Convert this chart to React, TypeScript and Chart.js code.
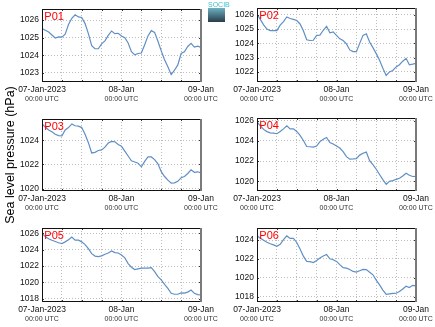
import React, { useEffect, useRef } from 'react';
import { Chart, registerables } from 'chart.js';
Chart.register(...registerables);

// ---- data ----
const hours = [0,1,2,3,4,5,6,7,8,9,10,11,12,13,14,15,16,17,18,19,20,21,22,23,24,25,26,27,28,29,30,31,32,33,34,35,36,37,38,39,40,41,42,43,44,45,46,47,48];
const gridHours = [0,6,12,18,24,30,36,42,48];
const xTickHours = [0,24,48];
const xTickLabels = ['07-Jan-2023','08-Jan','09-Jan'];
const xTickSub = '00:00 UTC';
const yTitle = 'Sea level pressure (hPa)';
const names = ['P01','P02','P03','P04','P05','P06'];

const p01 = [1025.52,1025.42,1025.32,1025.15,1024.98,1025.04,1025.03,1025.2,1025.75,1026.1,1026.3,1026.18,1026.15,1025.8,1025.23,1024.55,1024.37,1024.37,1024.65,1024.82,1025.13,1025.38,1025.23,1025.25,1025.1,1025.0,1024.7,1024.2,1024.02,1024.1,1024.13,1024.6,1025.1,1025.4,1025.3,1024.8,1024.25,1023.75,1023.35,1022.9,1023.15,1023.45,1024.1,1024.2,1024.5,1024.68,1024.46,1024.52,1024.45];
const p02 = [1026.05,1025.68,1025.3,1025.0,1024.9,1024.9,1024.9,1025.28,1025.52,1025.85,1025.74,1025.68,1025.6,1025.36,1024.88,1024.25,1024.2,1024.22,1024.56,1024.58,1024.92,1025.2,1024.74,1024.8,1024.56,1024.32,1024.2,1023.96,1023.54,1023.42,1023.42,1024.0,1024.56,1024.67,1024.1,1023.7,1023.28,1022.82,1022.25,1021.75,1022.0,1022.1,1022.35,1022.5,1022.75,1022.95,1022.5,1022.54,1022.6];
const p03 = [1025.36,1025.1,1024.85,1024.7,1024.5,1024.38,1024.37,1024.85,1025.05,1025.35,1025.2,1025.17,1025.05,1024.5,1023.8,1022.95,1023.0,1023.15,1023.2,1023.43,1023.77,1023.91,1023.88,1023.65,1023.5,1023.1,1022.7,1022.3,1022.2,1022.1,1021.8,1022.25,1022.62,1022.62,1022.4,1022.05,1021.4,1021.0,1020.7,1020.45,1020.47,1020.6,1020.9,1021.0,1021.25,1021.55,1021.35,1021.39,1021.3];
const p04 = [1025.9,1025.5,1025.15,1024.93,1024.8,1024.78,1024.72,1024.95,1025.2,1025.5,1025.2,1025.2,1024.95,1024.55,1024.05,1023.45,1023.43,1023.39,1023.5,1023.94,1024.18,1024.35,1023.84,1023.7,1023.5,1023.3,1022.95,1022.45,1022.2,1022.22,1022.25,1022.6,1022.78,1022.9,1022.05,1021.65,1021.2,1020.68,1020.17,1019.7,1020.0,1020.07,1020.2,1020.3,1020.52,1020.8,1020.6,1020.48,1020.5];
const p05 = [1026.0,1025.6,1025.35,1025.15,1025.0,1024.85,1024.76,1024.96,1025.22,1025.55,1025.17,1025.17,1024.96,1024.63,1024.13,1023.51,1023.22,1023.15,1023.25,1023.45,1023.6,1023.85,1023.65,1023.6,1023.35,1023.0,1022.3,1021.85,1021.56,1021.65,1021.73,1021.73,1021.75,1021.8,1021.3,1020.7,1020.3,1019.75,1019.25,1018.65,1018.54,1018.54,1018.7,1018.68,1018.8,1019.05,1018.65,1018.5,1018.45];
const p06 = [1024.47,1024.2,1023.98,1023.78,1023.62,1023.5,1023.35,1023.55,1024.05,1024.45,1024.18,1024.2,1023.75,1023.05,1022.3,1021.75,1021.72,1021.62,1021.84,1022.1,1022.31,1022.47,1022.02,1021.92,1021.74,1021.4,1021.08,1021.02,1020.88,1020.68,1020.6,1020.75,1020.9,1020.87,1020.6,1020.32,1019.75,1019.25,1018.7,1018.25,1018.3,1018.35,1018.36,1018.55,1018.82,1019.1,1018.97,1019.2,1019.15];
const series = [p01, p02, p03, p04, p05, p06];

const yTicks01 = [1023,1024,1025,1026];
const yTicks02 = [1022,1023,1024,1025,1026];
const yTicks03 = [1020,1022,1024];
const yTicks04 = [1020,1022,1024,1026];
const yTicks05 = [1018,1020,1022,1024,1026];
const yTicks06 = [1018,1020,1022,1024];
const yTicks = [yTicks01, yTicks02, yTicks03, yTicks04, yTicks05, yTicks06];
const yMins = [1022.48, 1021.29, 1019.8, 1019.04, 1017.59, 1017.43];
const yMaxs = [1026.63, 1026.48, 1025.76, 1026.28, 1026.66, 1025.29];

// ---- layout (pixel boxes of the plot areas) ----
const W = 435, H = 327;
const boxes = [
  { l: 42, r: 201, t: 9, b: 82 },
  { l: 257, r: 416, t: 8, b: 82 },
  { l: 42, r: 201, t: 119, b: 191 },
  { l: 257, r: 416, t: 118, b: 191 },
  { l: 42, r: 201, t: 228, b: 302 },
  { l: 257, r: 416, t: 228, b: 302 },
];
const YW = 40, XH1 = 12, XH2 = 11;
const FONT = '"Liberation Sans", Arial, Helvetica, sans-serif';

const framePlugin = {
  id: 'frame',
  afterDatasetsDraw(chart: any) {
    const { ctx, chartArea } = chart;
    const { left, top, right, bottom } = chartArea;
    const name = chart.options.plugins.frame.name;
    ctx.save();
    // inward tick marks
    ctx.strokeStyle = '#333';
    ctx.lineWidth = 1;
    const xs = chart.scales.x;
    const ys = chart.scales.y;
    ctx.beginPath();
    gridHours.forEach((h) => {
      const px = Math.round(xs.getPixelForValue(h)) + 0.5;
      ctx.moveTo(px, top); ctx.lineTo(px, top + 2);
      ctx.moveTo(px, bottom); ctx.lineTo(px, bottom - 2);
    });
    ys.ticks.forEach((t: any) => {
      const py = Math.round(ys.getPixelForValue(t.value)) + 0.5;
      ctx.moveTo(left, py); ctx.lineTo(left + 2, py);
      ctx.moveTo(right, py); ctx.lineTo(right - 2, py);
    });
    ctx.stroke();
    // frame
    ctx.strokeStyle = '#111';
    ctx.lineWidth = 1;
    ctx.beginPath();
    ctx.moveTo(right, top + 0.5);
    ctx.lineTo(left + 0.5, top + 0.5);
    ctx.lineTo(left + 0.5, bottom - 0.5);
    ctx.lineTo(right, bottom - 0.5);
    ctx.stroke();
    ctx.strokeStyle = '#7a7a7a';
    ctx.lineWidth = 2;
    ctx.beginPath();
    ctx.moveTo(right, top);
    ctx.lineTo(right, bottom);
    ctx.stroke();
    // panel name
    ctx.fillStyle = '#ff0000';
    ctx.font = '11px ' + FONT;
    ctx.textBaseline = 'alphabetic';
    ctx.textAlign = 'left';
    ctx.fillText(name, left + 2.3, top + 10.5);
    ctx.restore();
  },
};

function Panel({ idx }: { idx: number }) {
  const ref = useRef<HTMLCanvasElement>(null);
  useEffect(() => {
    const box = boxes[idx];
    const vals = series[idx];
    const yt = yTicks[idx];
    const chart = new Chart(ref.current as HTMLCanvasElement, {
      type: 'line',
      data: {
        datasets: [
          {
            data: hours.map((h, i) => ({ x: h, y: vals[i] })),
            borderColor: '#5f8fc5',
            borderWidth: 1.2,
            pointRadius: 0,
            tension: 0,
            fill: false,
          },
        ],
      },
      options: {
        responsive: false,
        animation: false,
        devicePixelRatio: 1,
        events: [],
        layout: {
          padding: {
            left: box.l - YW,
            top: box.t,
            right: W - box.r,
            bottom: H - box.b - XH1 - XH2,
          },
        },
        plugins: {
          legend: { display: false },
          tooltip: { enabled: false },
          frame: { name: names[idx] },
        } as any,
        scales: {
          x: {
            type: 'linear',
            position: 'bottom',
            weight: 0,
            min: 0,
            max: 48,
            afterBuildTicks: (s: any) => { s.ticks = gridHours.map((v) => ({ value: v })); },
            afterFit: (s: any) => { s.height = XH1; s.paddingLeft = 0; s.paddingRight = 0; },
            ticks: {
              autoSkip: false,
              maxRotation: 0,
              minRotation: 0,
              padding: 2.5,
              color: '#111',
              font: { family: FONT, size: 8.5 },
              callback: (v: any) => {
                const k = xTickHours.indexOf(Number(v));
                return k >= 0 ? xTickLabels[k] : '';
              },
            },
            grid: { color: '#bdbdbd', lineWidth: 1, drawTicks: false },
            border: { display: false, dash: [1, 2] },
          },
          x2: {
            type: 'linear',
            position: 'bottom',
            weight: 1,
            min: 0,
            max: 48,
            afterBuildTicks: (s: any) => { s.ticks = xTickHours.map((v) => ({ value: v })); },
            afterFit: (s: any) => { s.height = XH2; s.paddingLeft = 0; s.paddingRight = 0; },
            ticks: {
              autoSkip: false,
              maxRotation: 0,
              minRotation: 0,
              padding: 1,
              color: '#333',
              font: { family: FONT, size: 7 },
              callback: () => xTickSub,
            },
            grid: { display: false, drawTicks: false },
            border: { display: false },
          },
          y: {
            type: 'linear',
            position: 'left',
            min: yMins[idx],
            max: yMaxs[idx],
            afterBuildTicks: (s: any) => { s.ticks = yt.map((v) => ({ value: v })); },
            afterFit: (s: any) => { s.width = YW; s.paddingTop = 0; s.paddingBottom = 0; },
            ticks: {
              padding: 3,
              color: '#111',
              font: { family: FONT, size: 8.5 },
              callback: (v: any) => String(v),
            },
            grid: { color: '#bdbdbd', lineWidth: 1, drawTicks: false },
            border: { display: false, dash: [1, 2] },
          },
        },
      } as any,
      plugins: [framePlugin],
    });
    return () => chart.destroy();
  }, [idx]);
  return (
    <canvas
      ref={ref}
      width={W}
      height={H}
      style={{ position: 'absolute', left: 0, top: 0, width: W, height: H }}
    />
  );
}

export default function App() {
  return (
    <div style={{ position: 'absolute', left: 0, top: 0, width: W, height: H, background: '#fff', overflow: 'hidden' }}>
      {names.map((n, i) => (
        <Panel key={n} idx={i} />
      ))}
      <div
        style={{
          position: 'absolute',
          left: 9.5 - 100,
          top: 155 - 8,
          width: 200,
          height: 16,
          lineHeight: '16px',
          textAlign: 'center',
          transform: 'rotate(-90deg)',
          fontFamily: FONT,
          fontSize: 12.5,
          color: '#000',
          whiteSpace: 'nowrap',
        }}
      >
        {yTitle}
      </div>
      <div style={{ position: 'absolute', left: 208, top: 1, width: 17 }}>
        <div
          style={{
            fontFamily: FONT,
            fontSize: 7,
            lineHeight: '7px',
            height: 7,
            color: '#3cc3d3',
            textAlign: 'center',
            letterSpacing: 0,
          }}
        >
          SOCIB
        </div>
        <div style={{ height: 14, background: 'linear-gradient(#6fb0c0, #4d7d8d 45%, #2b3a48)' }} />
      </div>
    </div>
  );
}
